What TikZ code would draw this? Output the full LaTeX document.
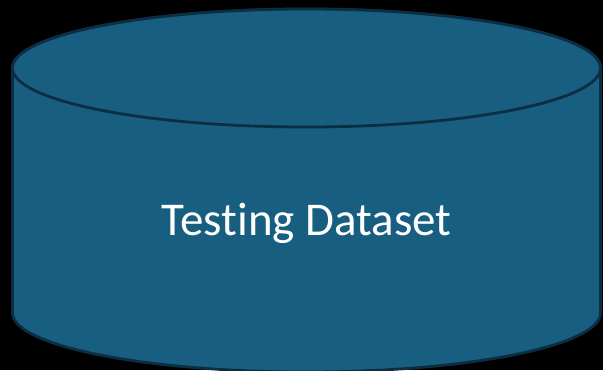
\documentclass[tikz,border=0pt]{standalone}
\usepackage{fontspec}
\setmainfont[Ligatures=NoCommon]{Carlito}
\definecolor{drumfill}{HTML}{175E80}
\definecolor{drumedge}{HTML}{0B2E42}
\begin{document}
\begin{tikzpicture}[x=1pt,y=-1pt,
  drum/.style={fill=drumfill,draw=drumedge,line width=2.8pt},
  label/.style={text=white,font=\fontsize{47}{54}\selectfont}]
  \fill[black] (0,0) rectangle (603,370);
  \useasboundingbox (0,0) rectangle (603,370);
  \begin{scope}
    \clip (0,0) rectangle (603,370);
    % body of the cylinder
    \draw[drum] (12.5,68) -- (12.5,313)
      arc[start angle=180,end angle=360,x radius=294,y radius=-59]
      -- (600.5,68)
      arc[start angle=0,end angle=180,x radius=294,y radius=-59] -- cycle;
    % top face
    \draw[drum] (306.5,68) ellipse[x radius=294,y radius=59];
  \end{scope}
  \node[label] (title) at (306.5,223) {Testing Dataset};
\end{tikzpicture}
\end{document}
